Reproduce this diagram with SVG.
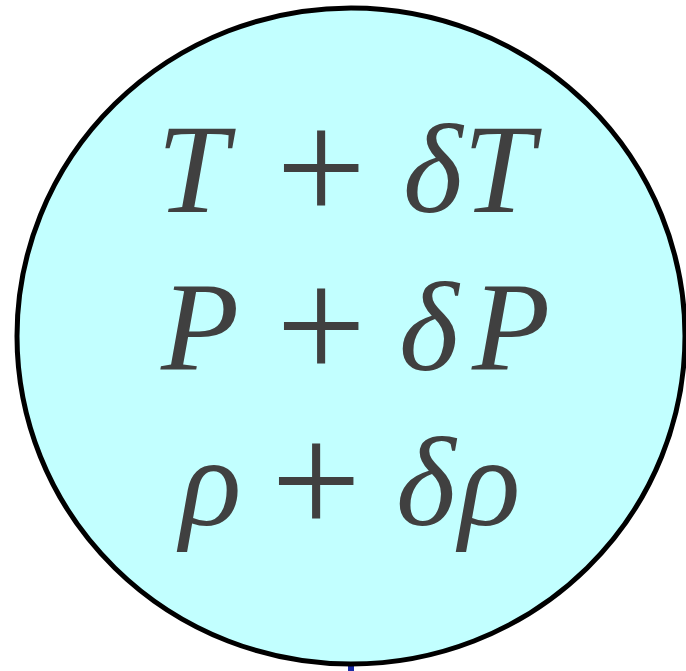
<svg xmlns="http://www.w3.org/2000/svg" width="686" height="671" viewBox="0 0 686 671">
<defs>
<style>
.bub{fill:#c2ffff;stroke:#000;stroke-width:5}
.conn{stroke:#1a2aa8;stroke-width:6;fill:none}
</style>
</defs>
<rect width="686" height="671" fill="#fff"/>
<g id="connectors">
<line class="conn" x1="351" y1="664" x2="351" y2="671"/>
</g>
<g id="state-node">
<ellipse class="bub" cx="351" cy="336" rx="334" ry="328"/>
<text style="font-family:'Liberation Serif',serif;font-size:128px;fill:#404040"><tspan style="font-style:italic" x="157" y="212">T</tspan><tspan style="font-size:160px" x="276" y="222">+</tspan><tspan style="font-style:italic" x="403" y="212">δ</tspan><tspan style="font-style:italic" x="463" y="212">T</tspan></text>
<text style="font-family:'Liberation Serif',serif;font-size:128px;fill:#404040"><tspan style="font-style:italic" x="161" y="370">P</tspan><tspan style="font-size:160px" x="276" y="380">+</tspan><tspan style="font-style:italic" x="399" y="370">δ</tspan><tspan style="font-style:italic" x="472" y="370">P</tspan></text>
<text style="font-family:'Liberation Serif',serif;font-size:128px;fill:#404040"><tspan style="font-style:italic" x="180" y="525">ρ</tspan><tspan style="font-size:160px" x="271" y="535">+</tspan><tspan style="font-style:italic" x="396" y="525">δ</tspan><tspan style="font-style:italic" x="459" y="525">ρ</tspan></text>
</g>
</svg>
